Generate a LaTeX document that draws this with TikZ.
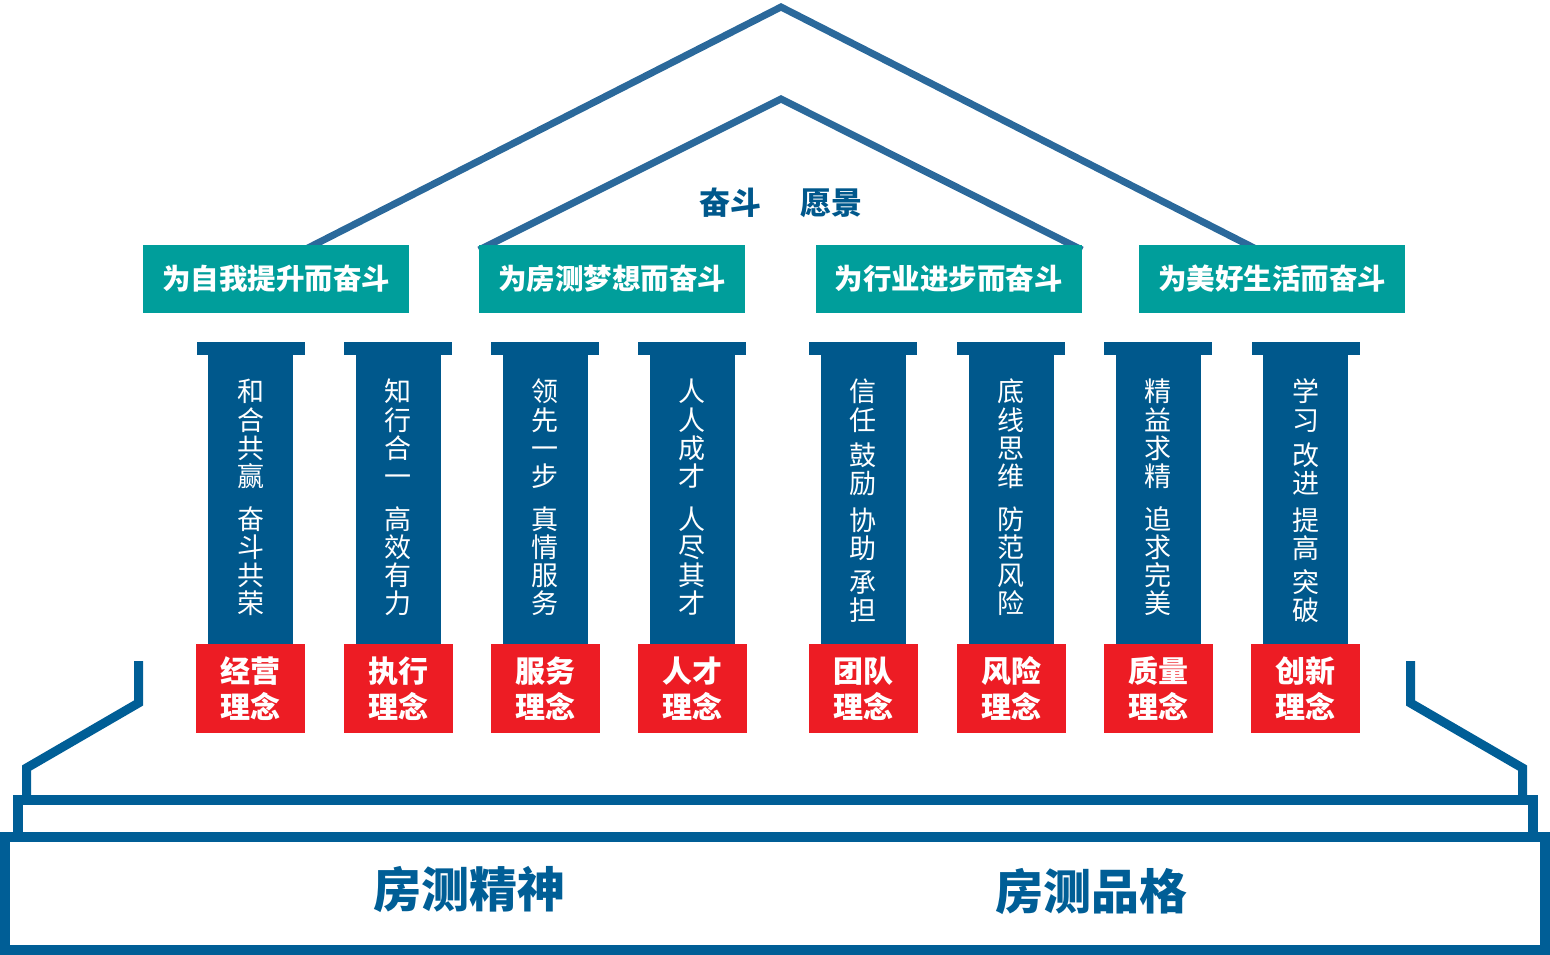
\documentclass[tikz,border=0pt]{standalone}
\usepackage{fontspec}
\setmainfont{Noto Sans CJK SC}
\definecolor{roofblue}{RGB}{43,105,155}
\definecolor{colblue}{RGB}{0,88,140}
\definecolor{baseblue}{RGB}{0,94,150}
\definecolor{tealbox}{RGB}{0,158,155}
\definecolor{redbox}{RGB}{237,28,36}
\tikzset{
  roofline/.style={draw=roofblue,line width=7pt,line join=miter},
  baseline/.style={draw=baseblue,line width=10pt,line join=miter},
  stubline/.style={draw=baseblue,line width=9pt,line join=miter},
  tealnode/.style={fill=tealbox,minimum width=266pt,minimum height=68pt,inner sep=0pt,text=white,font=\fontsize{28.5}{32}\selectfont\bfseries},
  capnode/.style={fill=colblue,minimum width=108pt,minimum height=13pt,inner sep=0pt},
  shaftnode/.style={fill=colblue,minimum width=85pt,minimum height=290pt,inner sep=0pt},
  rednode/.style={fill=redbox,minimum width=109pt,minimum height=89pt,inner sep=0pt,text=white,align=center,font=\fontsize{30}{36}\selectfont\bfseries},
  chnode/.style={text=white,inner sep=0pt,text height=20.5pt,text depth=0pt,font=\fontsize{27}{28}\selectfont},
  titlenode/.style={text=colblue,inner sep=0pt,font=\fontsize{31}{34}\selectfont\bfseries},
  basetext/.style={text=baseblue,inner sep=0pt,font=\fontsize{48}{52}\selectfont\bfseries}
}
\begin{document}
\begin{tikzpicture}[x=1pt,y=-1pt]
\useasboundingbox (0,0) rectangle (1550,955);
% roof
\coordinate (oL) at (304,250);
\coordinate (oA) at (781,7);
\coordinate (oR) at (1258,250);
\coordinate (iL) at (479,250);
\coordinate (iA) at (781,99);
\coordinate (iR) at (1082,250);
\draw[roofline] (oL) -- (oA) -- (oR);
\draw[roofline] (iL) -- (iA) -- (iR);
\node[titlenode] (t1) at (730,203) {奋斗};
\node[titlenode] (t2) at (831,203) {愿景};
% teal boxes
\node[tealnode] (g1) at (276,279) {为自我提升而奋斗};
\node[tealnode] (g2) at (612,279) {为房测梦想而奋斗};
\node[tealnode] (g3) at (948.5,279) {为行业进步而奋斗};
\node[tealnode] (g4) at (1272,279) {为美好生活而奋斗};
% columns
\foreach \i/\x/\a/\b in {1/250.5/经营/理念,2/398/执行/理念,3/545/服务/理念,4/692/人才/理念,5/863/团队/理念,6/1011/风险/理念,7/1158/质量/理念,8/1305.5/创新/理念}{
  \node[capnode] (cap\i) at (\x,348.5) {};
  \node[shaftnode] (sh\i) at (\x,499.5) {};
  \node[rednode] (r\i) at (\x,688.5) {\a\\\b};
}
% column texts
\foreach \i/\x/\chars in {1/250.5/{和,合,共,赢,奋,斗,共,荣},2/398/{知,行,合,一,高,效,有,力},3/545/{领,先,一,步,真,情,服,务},4/692/{人,人,成,才,人,尽,其,才},6/1011/{底,线,思,维,防,范,风,险},7/1158/{精,益,求,精,追,求,完,美}}{
  \foreach \c [count=\k] in \chars {
    \pgfmathsetmacro{\yy}{{391,420,448,476,519,547,575,603}[\k-1]}
    \node[chnode] (ch\i-\k) at (\x,\yy) {\c};
  }
}
\foreach \i/\x/\chars in {5/863/{信,任,鼓,励,协,助,承,担},8/1305.5/{学,习,改,进,提,高,突,破}}{
  \foreach \c [count=\k] in \chars {
    \pgfmathsetmacro{\yy}{{391,420,455,483,520,548,582,610}[\k-1]}
    \node[chnode] (ch\i-\k) at (\x,\yy) {\c};
  }
}
% base
\coordinate (sL1) at (138.5,661);
\coordinate (sL2) at (138.5,703);
\coordinate (sL3) at (26.5,768);
\coordinate (sL4) at (26.5,796);
\coordinate (sR1) at (1410.5,661);
\coordinate (sR2) at (1410.5,703);
\coordinate (sR3) at (1522.5,768);
\coordinate (sR4) at (1522.5,796);
\draw[stubline] (sL1) -- (sL2) -- (sL3) -- (sL4);
\draw[stubline] (sR1) -- (sR2) -- (sR3) -- (sR4);
\coordinate (pL) at (18,837);
\coordinate (pLT) at (18,800);
\coordinate (pRT) at (1533,800);
\coordinate (pR) at (1533,837);
\draw[baseline] (pL) -- (pLT) -- (pRT) -- (pR);
\coordinate (bTL) at (5,837);
\coordinate (bBR) at (1545,950);
\draw[baseline] (bTL) rectangle (bBR);
\node[basetext] (b1) at (469,890) {房测精神};
\node[basetext] (b2) at (1091,892) {房测品格};
\end{tikzpicture}
\end{document}
